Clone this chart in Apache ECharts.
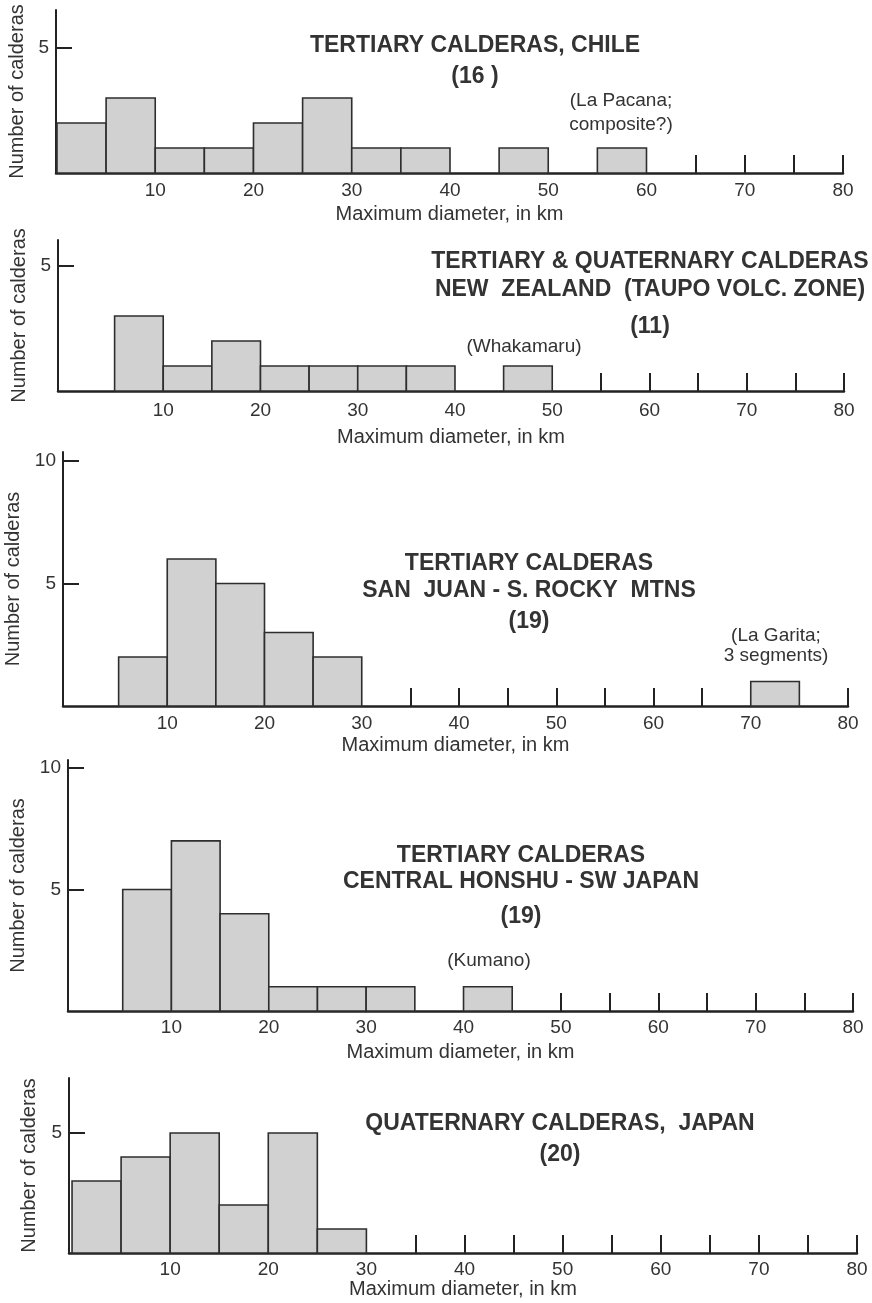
<!DOCTYPE html>
<html>
<head>
<meta charset="utf-8">
<title>Caldera diameters</title>
<script src="https://cdn.jsdelivr.net/npm/echarts@6/dist/echarts.min.js"></script>
<style>
  html, body { margin: 0; padding: 0; background: #fff; }
  #chart { width: 872px; height: 1303px; }
</style>
</head>
<body>
<div id="chart"></div>
<script>
// every bin is 5 km wide, arrays hold the bin start (km) and the count
const binWidth = 5
const xLabels = [10, 20, 30, 40, 50, 60, 70, 80]

const chileBins = [0, 5, 10, 15, 20, 25, 30, 35, 45, 55]
const chileCounts = [2, 3, 1, 1, 2, 3, 1, 1, 1, 1]
const chileTicks = [65, 70, 75, 80]

const nzBins = [5, 10, 15, 20, 25, 30, 35, 45]
const nzCounts = [3, 1, 2, 1, 1, 1, 1, 1]
const nzTicks = [55, 60, 65, 70, 75, 80]

const sanJuanBins = [5, 10, 15, 20, 25, 70]
const sanJuanCounts = [2, 6, 5, 3, 2, 1]
const sanJuanTicks = [35, 40, 45, 50, 55, 60, 65, 80]

const honshuBins = [5, 10, 15, 20, 25, 30, 40]
const honshuCounts = [5, 7, 4, 1, 1, 1, 1]
const honshuTicks = [50, 55, 60, 65, 70, 75, 80]

const quatBins = [0, 5, 10, 15, 20, 25]
const quatCounts = [3, 4, 5, 2, 5, 1]
const quatTicks = [35, 40, 45, 50, 55, 60, 65, 70, 75, 80]

const chileTitle = ['TERTIARY CALDERAS, CHILE', '(16 )']
const nzTitle = ['TERTIARY & QUATERNARY CALDERAS', 'NEW  ZEALAND  (TAUPO VOLC. ZONE)', '(11)']
const sanJuanTitle = ['TERTIARY CALDERAS', 'SAN  JUAN - S. ROCKY  MTNS', '(19)']
const honshuTitle = ['TERTIARY CALDERAS', 'CENTRAL HONSHU - SW JAPAN', '(19)']
const quatTitle = ['QUATERNARY CALDERAS,  JAPAN', '(20)']

const FONT = "'Liberation Sans', Arial, Helvetica, sans-serif"
const INK = '#2e2e2e'

// layout of the five stacked panels (pixels)
const panels = [
  { bins: chileBins, counts: chileCounts, ticks: chileTicks, yTicks: [5],
    grid: { left: 56, top: 10, width: 787, height: 163 }, xMin: -0.1, yMax: 6.52,
    labelMargin: 8, nameGap: 31, yNameGap: 27 },
  { bins: nzBins, counts: nzCounts, ticks: nzTicks, yTicks: [5],
    grid: { left: 58, top: 240, width: 786, height: 151 }, xMin: -0.82, yMax: 6.04,
    labelMargin: 10, nameGap: 36, yNameGap: 28 },
  { bins: sanJuanBins, counts: sanJuanCounts, ticks: sanJuanTicks, yTicks: [5, 10],
    grid: { left: 63, top: 452, width: 785, height: 254 }, xMin: -0.72, yMax: 10.37,
    labelMargin: 8, nameGap: 29, yNameGap: 26 },
  { bins: honshuBins, counts: honshuCounts, ticks: honshuTicks, yTicks: [5, 10],
    grid: { left: 68, top: 760, width: 785, height: 251 }, xMin: -0.62, yMax: 10.33,
    labelMargin: 7, nameGap: 31, yNameGap: 29 },
  { bins: quatBins, counts: quatCounts, ticks: quatTicks, yTicks: [5],
    grid: { left: 69, top: 1078, width: 788, height: 175 }, xMin: -0.31, yMax: 7.29,
    labelMargin: 7, nameGap: 22, yNameGap: 30 }
]

// title blocks (centre x, line centres y) and bar notes
const titleBlocks = [
  { lines: chileTitle, x: 475, ys: [46, 77] },
  { lines: nzTitle, x: 650, ys: [262, 290, 327] },
  { lines: sanJuanTitle, x: 529, ys: [564, 591, 622] },
  { lines: honshuTitle, x: 521, ys: [856, 882, 917] },
  { lines: quatTitle, x: 560, ys: [1124, 1155] }
]
const notes = [
  { text: '(La Pacana;\ncomposite?)', x: 621, y: 113, lh: 24 },
  { text: '(Whakamaru)', x: 524, y: 347, lh: 20 },
  { text: '(La Garita;\n3 segments)', x: 776, y: 646, lh: 20 },
  { text: '(Kumano)', x: 489, y: 961, lh: 20 }
]

const graphic = []
titleBlocks.forEach(b => {
  b.lines.forEach((line, k) => {
    graphic.push({
      type: 'text', x: b.x, y: b.ys[k],
      style: { text: line, align: 'center', verticalAlign: 'middle', fill: '#333',
        fontFamily: FONT, fontSize: 23, fontWeight: 'bold' }
    })
  })
})
notes.forEach(n => {
  graphic.push({
    type: 'text', x: n.x, y: n.y,
    style: { text: n.text, align: 'center', verticalAlign: 'middle', fill: '#333',
      fontFamily: FONT, fontSize: 19, lineHeight: n.lh }
  })
})

const chart = echarts.init(document.getElementById('chart'))
chart.setOption({
  backgroundColor: '#fff',
  animation: false,
  grid: panels.map(p => Object.assign({ outerBoundsMode: 'none', containLabel: false }, p.grid)),
  xAxis: panels.map((p, i) => ({
    gridIndex: i,
    type: 'value',
    min: p.xMin,
    max: 80,
    splitLine: { show: false },
    axisLine: { show: true, lineStyle: { color: '#222', width: 2.5 } },
    axisTick: { show: true, inside: true, length: 18, customValues: p.ticks,
      lineStyle: { color: '#222', width: 2 } },
    axisLabel: { customValues: xLabels, margin: p.labelMargin, color: '#333',
      fontSize: 19, fontFamily: FONT },
    name: 'Maximum diameter, in km',
    nameLocation: 'middle',
    nameGap: p.nameGap,
    nameTextStyle: { color: '#333', fontSize: 20, fontFamily: FONT }
  })),
  yAxis: panels.map((p, i) => ({
    gridIndex: i,
    type: 'value',
    min: 0,
    max: p.yMax,
    splitLine: { show: false },
    axisLine: { show: true, onZero: false, lineStyle: { color: '#222', width: 2 } },
    axisTick: { show: true, inside: true, length: 16, customValues: p.yTicks,
      lineStyle: { color: '#222', width: 2 } },
    axisLabel: { customValues: p.yTicks, margin: 7, color: '#333',
      fontSize: 19, fontFamily: FONT },
    name: 'Number of calderas',
    nameLocation: 'middle',
    nameGap: p.yNameGap,
    nameTextStyle: { color: '#333', fontSize: 20, fontFamily: FONT }
  })),
  series: panels.map((p, i) => ({
    type: 'custom',
    xAxisIndex: i,
    yAxisIndex: i,
    data: p.bins.map((b, k) => [b, b + binWidth, p.counts[k]]),
    encode: { x: [0, 1], y: 2 },
    renderItem: (params, api) => {
      const tl = api.coord([api.value(0), api.value(2)])
      const br = api.coord([api.value(1), 0])
      return {
        type: 'rect',
        shape: { x: tl[0], y: tl[1], width: br[0] - tl[0], height: br[1] - tl[1] },
        style: { fill: '#d1d1d1', stroke: INK, lineWidth: 1.6 }
      }
    }
  })),
  graphic: graphic
})
</script>
</body>
</html>
